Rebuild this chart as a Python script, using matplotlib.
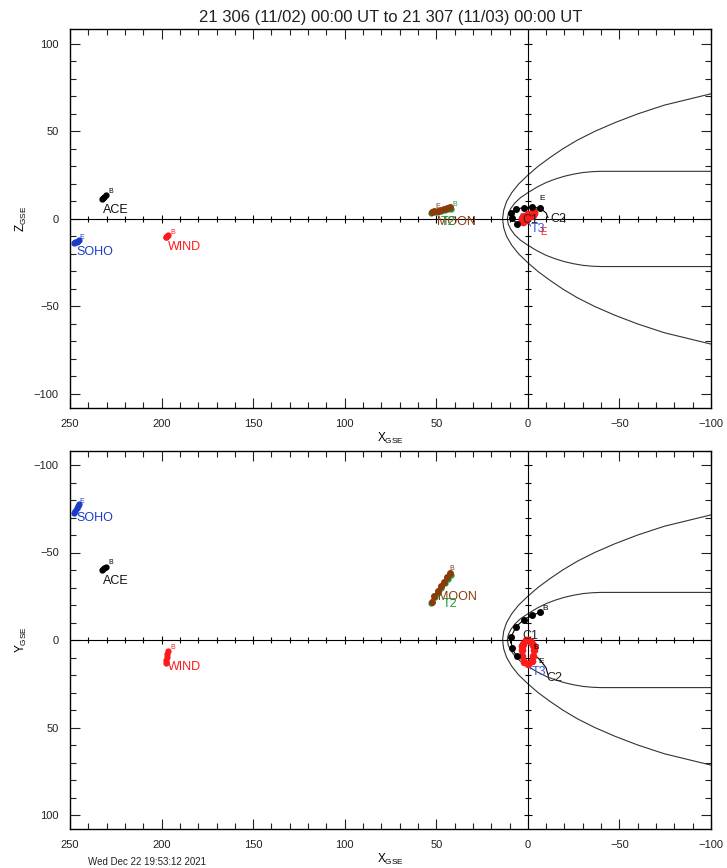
import numpy as np
import matplotlib.pyplot as plt
from matplotlib.ticker import MultipleLocator

plt.rcParams['font.family'] = ['Liberation Sans', 'DejaVu Sans']

title = '21 306 (11/02) 00:00 UT to 21 307 (11/03) 00:00 UT'
stamp = 'Wed Dec 22 19:53:12 2021'

# model boundaries (upper half, Re)
bs_y = [0, 5, 10, 15, 20, 25, 30, 35, 40, 45, 50, 55, 60, 65, 71.5]
bs_x = [13.8, 13.2, 11.6, 8.8, 5.0, 0.0, -5.5, -12.0, -19.0, -27.0, -36.5, -47.5, -60.0, -74.5, -100.0]
mp_y = [0, 3, 6, 9, 12, 15, 18.2, 20.8, 22.8, 24.4, 25.6, 26.5, 27.0, 27.2, 27.2]
mp_x = [11.2, 10.7, 9.3, 7.2, 4.2, 0.0, -5.0, -10.0, -15.0, -20.0, -25.0, -30.0, -35.0, -40.0, -100.0]

# spacecraft positions over the day (GSE, Re)
ace_x = [230.5, 231.2, 231.9, 232.5]
ace_y = [-42.0, -41.4, -40.8, -40.2]
ace_z = [13.4, 12.8, 12.2, 11.6]

soho_x = [247.6, 247.0, 246.4, 245.8, 245.2]
soho_y = [-72.8, -74.0, -75.2, -76.4, -77.6]
soho_z = [-13.8, -13.4, -13.0, -12.6, -12.2]

wind_x = [196.5, 196.8, 197.1, 197.4, 197.7]
wind_y = [6.0, 7.8, 9.6, 11.4, 13.2]
wind_z = [-9.4, -9.7, -10.0, -10.3, -10.6]

moon_x = [42.5, 44.2, 45.9, 47.6, 49.3, 51.0, 52.6]
moon_y = [-38.3, -35.8, -33.2, -30.6, -27.8, -24.9, -22.0]
moon_z = [6.6, 6.2, 5.8, 5.3, 4.8, 4.4, 4.0]

t2_x = [41.8, 43.6, 45.4, 47.2, 49.0, 50.8, 52.9]
t2_y = [-37.4, -34.9, -32.4, -29.8, -27.1, -24.3, -21.3]
t2_z = [5.8, 5.4, 5.0, 4.6, 4.2, 3.8, 3.4]

c1_x = [6.1, 8.7, 9.2, 6.5, 2.3, -2.4, -6.6]
c1_y = [9.3, 4.6, -1.7, -7.4, -11.6, -14.1, -15.8]
c1_z = [-2.7, 0.6, 3.2, 5.5, 6.5, 6.6, 6.3]

c2_x = [-2.8, -6.6, -9.9, -11.0]
c2_y = [7.8, 11.3, 15.8, 19.8]
c2_z = [5.0, 6.2, 3.5, 0.8]

t3_x = [0.5, 3.5, 4.0, 3.0, 0.5, -1.0, -1.5]
t3_y = [0.5, 4.0, 8.0, 12.0, 14.0, 15.5, 16.5]
t3_z = [1.5, 3.0, 2.0, 0.5, -1.5, -3.0, -4.0]

th_x = [-0.2, -1.6, -2.6, -3.3, -3.5, -3.0, -2.1, -0.2, 2.0, 3.2, 3.4, 3.2, 2.8, 1.0]
th_y = [-0.2, 1.2, 2.7, 4.0, 5.5, 9.0, 12.2, 13.5, 12.8, 9.4, 5.5, 3.5, 2.1, 0.2]
th_z = [1.0, 1.8, 2.5, 3.2, 3.8, 4.2, 3.6, 2.8, 1.5, 0.5, -0.5, -1.2, -1.5, -0.5]


def sat(ax, x, v, color, ms=3.5, lw=0.8):
    ax.plot(x, v, color=color, lw=lw, marker='o', ms=ms, mec=color, zorder=4)


def note(ax, x, v, i, s, color, dx, dy, size=9, ha='left', va='center'):
    ax.annotate(s, (x[i], v[i]), xytext=(dx, dy), textcoords='offset pixels',
                color=color, fontsize=size, ha=ha, va=va, zorder=6)


def frame(ax, xlab, ylab):
    ax.set_xlim(250, -100)
    ax.xaxis.set_major_locator(MultipleLocator(50))
    ax.xaxis.set_minor_locator(MultipleLocator(10))
    ax.yaxis.set_major_locator(MultipleLocator(50))
    ax.yaxis.set_minor_locator(MultipleLocator(10))
    ax.tick_params(which='both', direction='in', top=True, right=True,
                   labelsize=8, pad=8, colors='#222')
    ax.tick_params(which='major', length=7, width=0.8)
    ax.tick_params(which='minor', length=4, width=0.8)
    ax.set_xlabel(xlab, fontsize=8.5, va='center')
    ax.set_ylabel(ylab, fontsize=8.5, va='center')
    ax.xaxis.set_label_coords(0.5, -0.08)
    ax.yaxis.set_label_coords(-0.075, 0.5)
    for s in ax.spines.values():
        s.set_linewidth(1.0)
    # axes through the origin with small crossing ticks
    ax.axhline(0, color='k', lw=0.8, zorder=2)
    ax.axvline(0, color='k', lw=0.8, zorder=2)
    xt = np.arange(240, -100, -10)
    xt = xt[xt != 0]
    yt = np.arange(-100, 110, 10)
    yt = yt[yt != 0]
    big_x = xt % 50 == 0
    big_y = yt % 50 == 0
    ax.plot(xt[~big_x], 0 * xt[~big_x], ls='none', marker='|', ms=4, mew=0.8, color='k', zorder=2)
    ax.plot(xt[big_x], 0 * xt[big_x], ls='none', marker='|', ms=6, mew=0.8, color='k', zorder=2)
    ax.plot(0 * yt[~big_y], yt[~big_y], ls='none', marker='_', ms=4, mew=0.8, color='k', zorder=2)
    ax.plot(0 * yt[big_y], yt[big_y], ls='none', marker='_', ms=6, mew=0.8, color='k', zorder=2)
    # bow shock and magnetopause
    for bx, by in ((bs_x, bs_y), (mp_x, mp_y)):
        cx = list(bx[::-1]) + list(bx[1:])
        cy = [-v for v in by[::-1]] + list(by[1:])
        ax.plot(cx, cy, color='#333', lw=0.8, zorder=1)


fig = plt.figure(figsize=(7.27, 8.68), dpi=100)
ax1 = fig.add_axes([70 / 727, 1 - 408 / 868, 641 / 727, 379 / 868])
ax2 = fig.add_axes([70 / 727, 1 - 829 / 868, 641 / 727, 378 / 868])

blk, blu, red, brn, grn, tblu = 'k', '#1a3cc8', '#ff1a1a', '#8b3a0c', '#1c9a3a', '#3a5ad8'

# ---- X-Z panel
frame(ax1, r'X$_{\mathregular{GSE}}$', r'Z$_{\mathregular{GSE}}$')
ax1.set_ylim(-108, 108.5)
ax1.set_title(title, fontsize=12, color='#222', pad=5)
sat(ax1, ace_x, ace_z, blk)
note(ax1, ace_x, ace_z, -1, 'ACE', '#111', 1, -11)
note(ax1, ace_x, ace_z, 0, 'B', blk, 3, 4, size=5)
sat(ax1, soho_x, soho_z, blu)
note(ax1, soho_x, soho_z, -1, 'SOHO', blu, -2, -12)
note(ax1, soho_x, soho_z, -1, 'E', blu, 1, 3, size=5)
sat(ax1, wind_x, wind_z, red)
note(ax1, wind_x, wind_z, -1, 'WIND', red, 2, -10)
note(ax1, wind_x, wind_z, 0, 'B', red, 2, 3, size=5)
sat(ax1, t2_x, t2_z, grn, ms=3.5, lw=1.5)
sat(ax1, moon_x, moon_z, brn, ms=4, lw=2)
note(ax1, moon_x, moon_z, -1, 'MOON', brn, 5, -10)
note(ax1, t2_x, t2_z, -1, 'T2', grn, 10, -9)
note(ax1, moon_x, moon_z, -1, 'E', brn, 4, 5, size=5)
note(ax1, t2_x, t2_z, 0, 'B', grn, 1, 4, size=5)
sat(ax1, c2_x, c2_z, blk, ms=0)
note(ax1, c2_x, c2_z, -1, 'C2', '#222', 2, -1)
sat(ax1, t3_x, t3_z, tblu, ms=0)
note(ax1, t3_x, t3_z, -1, 'T3', tblu, 0, -3)
sat(ax1, th_x, th_z, red, ms=4.5, lw=1.5)
note(ax1, th_x, th_z, -1, 'E', red, 14, -12, size=7)
sat(ax1, c1_x, c1_z, blk, ms=4)
note(ax1, c1_x, c1_z, 2, 'C1', '#222', 11, -7)
note(ax1, c1_x, c1_z, -1, 'E', blk, -1, 9, size=6)

# ---- X-Y panel
frame(ax2, r'X$_{\mathregular{GSE}}$', r'Y$_{\mathregular{GSE}}$')
ax2.set_ylim(108, -108)
sat(ax2, ace_x, ace_y, blk)
note(ax2, ace_x, ace_y, -1, 'ACE', '#111', 1, -11)
note(ax2, ace_x, ace_y, 0, 'B', blk, 3, 4, size=5)
sat(ax2, soho_x, soho_y, blu)
note(ax2, soho_x, soho_y, -1, 'SOHO', blu, -2, -14)
note(ax2, soho_x, soho_y, -1, 'E', blu, 1, 3, size=5)
sat(ax2, wind_x, wind_y, red)
note(ax2, wind_x, wind_y, -1, 'WIND', red, 2, -4)
note(ax2, wind_x, wind_y, 0, 'B', red, 2, 3, size=5)
sat(ax2, t2_x, t2_y, grn, ms=3.5, lw=1.5)
sat(ax2, moon_x, moon_y, brn, ms=4, lw=2)
note(ax2, moon_x, moon_y, -1, 'MOON', brn, 6, 5)
note(ax2, t2_x, t2_y, -1, 'T2', grn, 12, -1)
note(ax2, moon_x, moon_y, 0, 'B', brn, -1, 4, size=5)
sat(ax2, c2_x, c2_y, blk, ms=0)
note(ax2, c2_x, c2_y, -1, 'C2', '#222', -2, -3)
note(ax2, c2_x, c2_y, 0, 'B', blk, 0, 6, size=6)
note(ax2, c2_x, c2_y, 1, 'E', blk, -2, -2, size=6)
sat(ax2, t3_x, t3_y, tblu, ms=0)
note(ax2, t3_x, t3_y, -1, 'T3', tblu, 1, -3)
sat(ax2, th_x, th_y, red, ms=4.5, lw=1.5)
sat(ax2, c1_x, c1_y, blk, ms=4)
note(ax2, c1_x, c1_y, 2, 'C1', '#222', 11, 1)
note(ax2, c1_x, c1_y, -1, 'B', blk, 2, 4, size=6)

fig.text(88 / 727, 1 - 862 / 868, stamp, fontsize=7, color='#222', va='center')

fig.savefig('out.png', dpi=100)
